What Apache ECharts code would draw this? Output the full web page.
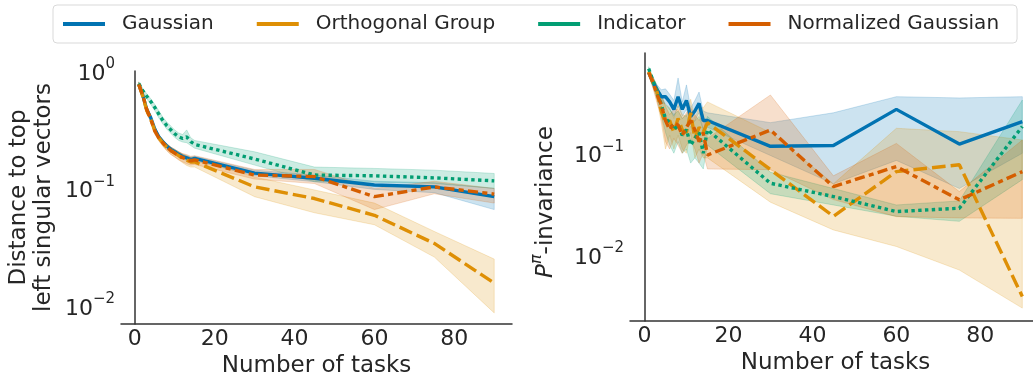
<!DOCTYPE html>
<html>
<head>
<meta charset="utf-8">
<script src="https://cdn.jsdelivr.net/npm/echarts@6/dist/echarts.min.js"></script>
<style>
  html, body { margin: 0; padding: 0; background: #fff; }
  #chart { width: 1033px; height: 377px; }
</style>
</head>
<body>
<div id="chart"></div>
<script>
const tasks = [1, 2, 3, 4, 5, 6, 7, 8, 9, 10, 11, 12, 13, 14, 15, 30, 45, 60, 75, 90];
const methods = ['Gaussian', 'Orthogonal Group', 'Indicator', 'Normalized Gaussian'];

// left panel: distance to top left singular vectors
const leftGauss   = [0.77, 0.62, 0.47, 0.40, 0.32, 0.275, 0.25, 0.23, 0.215, 0.205, 0.195, 0.187, 0.182, 0.176, 0.18, 0.135, 0.122, 0.107, 0.103, 0.085];
const leftGaussLo = [0.74, 0.59, 0.45, 0.38, 0.30, 0.26, 0.24, 0.22, 0.205, 0.195, 0.186, 0.178, 0.173, 0.168, 0.172, 0.128, 0.114, 0.098, 0.092, 0.066];
const leftGaussHi = [0.80, 0.65, 0.49, 0.42, 0.335, 0.29, 0.26, 0.24, 0.225, 0.215, 0.205, 0.196, 0.19, 0.185, 0.188, 0.143, 0.13, 0.115, 0.112, 0.10];

const leftOrtho   = [0.77, 0.61, 0.46, 0.39, 0.31, 0.27, 0.245, 0.225, 0.21, 0.20, 0.19, 0.18, 0.174, 0.168, 0.168, 0.103, 0.082, 0.059, 0.034, 0.0156];
const leftOrthoLo = [0.74, 0.58, 0.43, 0.37, 0.29, 0.255, 0.23, 0.21, 0.195, 0.185, 0.175, 0.165, 0.157, 0.152, 0.152, 0.085, 0.062, 0.049, 0.026, 0.0087];
const leftOrthoHi = [0.80, 0.64, 0.49, 0.41, 0.33, 0.285, 0.26, 0.24, 0.225, 0.215, 0.205, 0.195, 0.19, 0.184, 0.182, 0.125, 0.097, 0.075, 0.043, 0.025];

const leftInd   = [0.78, 0.68, 0.61, 0.55, 0.49, 0.43, 0.38, 0.343, 0.316, 0.292, 0.275, 0.266, 0.275, 0.25, 0.237, 0.178, 0.13, 0.128, 0.123, 0.116];
const leftIndLo = [0.75, 0.65, 0.58, 0.52, 0.46, 0.40, 0.355, 0.32, 0.295, 0.272, 0.256, 0.248, 0.245, 0.232, 0.22, 0.158, 0.114, 0.113, 0.11, 0.10];
const leftIndHi = [0.81, 0.71, 0.64, 0.58, 0.52, 0.46, 0.405, 0.368, 0.34, 0.315, 0.296, 0.288, 0.315, 0.27, 0.256, 0.205, 0.152, 0.148, 0.143, 0.134];

const leftNorm   = [0.77, 0.62, 0.47, 0.39, 0.31, 0.27, 0.245, 0.225, 0.21, 0.20, 0.19, 0.183, 0.178, 0.172, 0.175, 0.13, 0.126, 0.085, 0.103, 0.0895];
const leftNormLo = [0.74, 0.59, 0.44, 0.37, 0.29, 0.255, 0.23, 0.21, 0.195, 0.185, 0.175, 0.168, 0.162, 0.158, 0.16, 0.12, 0.11, 0.066, 0.09, 0.075];
const leftNormHi = [0.80, 0.65, 0.50, 0.41, 0.33, 0.285, 0.26, 0.24, 0.225, 0.215, 0.205, 0.198, 0.194, 0.188, 0.19, 0.145, 0.145, 0.10, 0.115, 0.10];

// right panel: P^pi-invariance
const rightGauss   = [0.62, 0.50, 0.42, 0.36, 0.36, 0.32, 0.27, 0.36, 0.27, 0.33, 0.23, 0.26, 0.31, 0.21, 0.21, 0.117, 0.119, 0.27, 0.123, 0.205];
const rightGaussLo = [0.58, 0.45, 0.37, 0.31, 0.31, 0.27, 0.23, 0.29, 0.23, 0.27, 0.19, 0.21, 0.25, 0.17, 0.18, 0.095, 0.05, 0.085, 0.045, 0.10];
const rightGaussHi = [0.66, 0.55, 0.47, 0.42, 0.43, 0.38, 0.33, 0.55, 0.32, 0.47, 0.28, 0.33, 0.40, 0.26, 0.25, 0.20, 0.25, 0.36, 0.35, 0.36];

const rightOrtho   = [0.64, 0.50, 0.40, 0.26, 0.20, 0.21, 0.16, 0.22, 0.17, 0.16, 0.25, 0.14, 0.18, 0.16, 0.20, 0.069, 0.024, 0.066, 0.077, 0.0039];
const rightOrthoLo = [0.60, 0.45, 0.33, 0.20, 0.11, 0.15, 0.11, 0.15, 0.11, 0.10, 0.16, 0.09, 0.11, 0.09, 0.09, 0.033, 0.0176, 0.0121, 0.0071, 0.003];
const rightOrthoHi = [0.68, 0.56, 0.46, 0.34, 0.30, 0.28, 0.22, 0.30, 0.24, 0.23, 0.34, 0.22, 0.28, 0.28, 0.32, 0.16, 0.05, 0.176, 0.163, 0.135];

const rightInd   = [0.68, 0.52, 0.40, 0.30, 0.22, 0.20, 0.17, 0.19, 0.15, 0.17, 0.12, 0.14, 0.16, 0.10, 0.17, 0.0507, 0.0375, 0.0267, 0.0288, 0.183];
const rightIndLo = [0.65, 0.47, 0.34, 0.24, 0.16, 0.12, 0.10, 0.13, 0.10, 0.11, 0.08, 0.09, 0.08, 0.07, 0.12, 0.04, 0.031, 0.024, 0.0214, 0.055];
const rightIndHi = [0.71, 0.57, 0.46, 0.37, 0.30, 0.27, 0.24, 0.26, 0.22, 0.24, 0.18, 0.21, 0.23, 0.17, 0.23, 0.065, 0.045, 0.031, 0.034, 0.334];

const rightNorm   = [0.62, 0.50, 0.38, 0.30, 0.21, 0.17, 0.20, 0.19, 0.15, 0.18, 0.21, 0.17, 0.13, 0.16, 0.096, 0.169, 0.047, 0.074, 0.0348, 0.066];
const rightNormLo = [0.58, 0.44, 0.31, 0.23, 0.13, 0.11, 0.14, 0.12, 0.10, 0.12, 0.14, 0.11, 0.08, 0.10, 0.07, 0.069, 0.035, 0.0238, 0.0231, 0.0229];
const rightNormHi = [0.66, 0.56, 0.45, 0.38, 0.29, 0.24, 0.27, 0.27, 0.22, 0.25, 0.28, 0.24, 0.21, 0.24, 0.14, 0.374, 0.06, 0.125, 0.042, 0.135];

const colors = ['#0173b2', '#de8f05', '#029e73', '#d55e00'];
const dashes = ['solid', [13.6, 5.1], [3.4, 3.4], [10.2, 4.25, 5.1, 4.25]];
const font = 'DejaVu Sans';
const textColor = '#262626';

function rgba(hex, a) {
  const n = parseInt(hex.slice(1), 16);
  return 'rgba(' + (n >> 16) + ',' + ((n >> 8) & 255) + ',' + (n & 255) + ',' + a + ')';
}

function lineSeries(idx, ys, grid) {
  return {
    type: 'line',
    name: methods[idx],
    xAxisIndex: grid,
    yAxisIndex: grid,
    data: tasks.map((t, i) => [t, ys[i]]),
    symbol: 'none',
    lineStyle: { color: colors[idx], width: 3.4, type: dashes[idx], cap: 'butt' },
    itemStyle: { color: colors[idx] },
    z: 3 + idx,
  };
}

function bandSeries(idx, lo, hi, grid) {
  return {
    type: 'custom',
    name: methods[idx] + ' band',
    xAxisIndex: grid,
    yAxisIndex: grid,
    silent: true,
    z: 1,
    data: [[tasks[0], hi[0]]],
    renderItem: (params, api) => {
      const pts = [];
      tasks.forEach((t, i) => pts.push(api.coord([t, hi[i]])));
      for (let i = tasks.length - 1; i >= 0; i--) pts.push(api.coord([tasks[i], lo[i]]));
      return {
        type: 'polygon',
        shape: { points: pts },
        style: { fill: rgba(colors[idx], 0.2), stroke: rgba(colors[idx], 0.2), lineWidth: 1 },
      };
    },
  };
}

function logLabel(value) {
  const e = Math.log10(value);
  const r = Math.round(e);
  if (Math.abs(e - r) > 1e-6) return '';
  return '{b|10}{s|' + (r < 0 ? '\u2212' + (-r) : r) + '}';
}

const logRich = {
  b: { fontSize: 22, fontFamily: font, color: textColor, verticalAlign: 'bottom', padding: [6, 0, 0, 0] },
  s: { fontSize: 15, fontFamily: font, color: textColor, verticalAlign: 'top' },
};

function xAxisCfg(grid) {
  return {
    type: 'value',
    gridIndex: grid,
    min: -3.45,
    max: 94.45,
    splitNumber: 5,
    name: 'Number of tasks',
    nameLocation: 'middle',
    nameGap: 27,
    nameTextStyle: { fontSize: 23, fontFamily: font, color: textColor },
    axisLine: { lineStyle: { color: '#333', width: 1.5 } },
    axisTick: { show: false },
    splitLine: { show: false },
    axisLabel: {
      fontSize: 22, fontFamily: font, color: textColor, margin: 4,
      formatter: (v) => (Math.abs(v % 20) < 1e-6 ? String(v) : ''),
    },
  };
}

function yAxisCfg(grid, min, max, name, nameGap, nameStyle) {
  return {
    type: 'log',
    gridIndex: grid,
    min: min,
    max: max,
    name: name,
    nameLocation: 'middle',
    nameRotate: 90,
    nameGap: nameGap,
    nameTextStyle: nameStyle,
    axisLine: { lineStyle: { color: '#333', width: 1.5 } },
    axisTick: { show: false },
    splitLine: { show: false },
    minorTick: { show: false },
    axisLabel: { margin: 6, formatter: logLabel, rich: logRich },
  };
}

const chart = echarts.init(document.getElementById('chart'));

const leftData = [
  [leftGauss, leftGaussLo, leftGaussHi],
  [leftOrtho, leftOrthoLo, leftOrthoHi],
  [leftInd, leftIndLo, leftIndHi],
  [leftNorm, leftNormLo, leftNormHi],
];
const rightData = [
  [rightGauss, rightGaussLo, rightGaussHi],
  [rightOrtho, rightOrthoLo, rightOrthoHi],
  [rightInd, rightIndLo, rightIndHi],
  [rightNorm, rightNormLo, rightNormHi],
];

const series = [];
[leftData, rightData].forEach((panel, g) => {
  panel.forEach((d, i) => series.push(bandSeries(i, d[1], d[2], g)));
  panel.forEach((d, i) => series.push(lineSeries(i, d[0], g)));
});

chart.setOption({
  animation: false,
  textStyle: { fontFamily: font },
  legend: {
    data: methods.map((m) => ({ name: m, icon: 'rect' })),
    left: 53,
    top: 5,
    padding: [9, 18, 9, 10],
    itemWidth: 42,
    itemHeight: 4,
    itemGap: 43,
    borderColor: '#d9d9d9',
    borderWidth: 1,
    borderRadius: 4,
    textStyle: { fontSize: 20, fontFamily: font, color: textColor, padding: [0, 0, 0, 12] },
  },
  grid: [
    { left: 121, top: 71, width: 391, height: 253, containLabel: false, outerBoundsMode: 'none' },
    { left: 630, top: 53, width: 411, height: 268, containLabel: false, outerBoundsMode: 'none' },
  ],
  xAxis: [xAxisCfg(0), xAxisCfg(1)],
  yAxis: [
    yAxisCfg(0, 0.007, 1, 'Distance to top\nleft singular vectors', 64,
      { fontSize: 23, fontFamily: font, color: textColor, lineHeight: 25 }),
    yAxisCfg(1, 0.00224, 0.968, '{i|P}{p|\u03c0}{n|-invariance}', 72, {
      padding: [0, 30, 0, 0],
      rich: {
        i: { fontSize: 23, fontFamily: font, fontStyle: 'italic', color: textColor, verticalAlign: 'bottom', padding: [6, 0, 0, 0] },
        p: { fontSize: 16, fontFamily: font, fontStyle: 'italic', color: textColor, verticalAlign: 'top' },
        n: { fontSize: 23, fontFamily: font, color: textColor, verticalAlign: 'bottom', padding: [6, 0, 0, 0] },
      },
    }),
  ],
  series: series,
});
</script>
</body>
</html>
